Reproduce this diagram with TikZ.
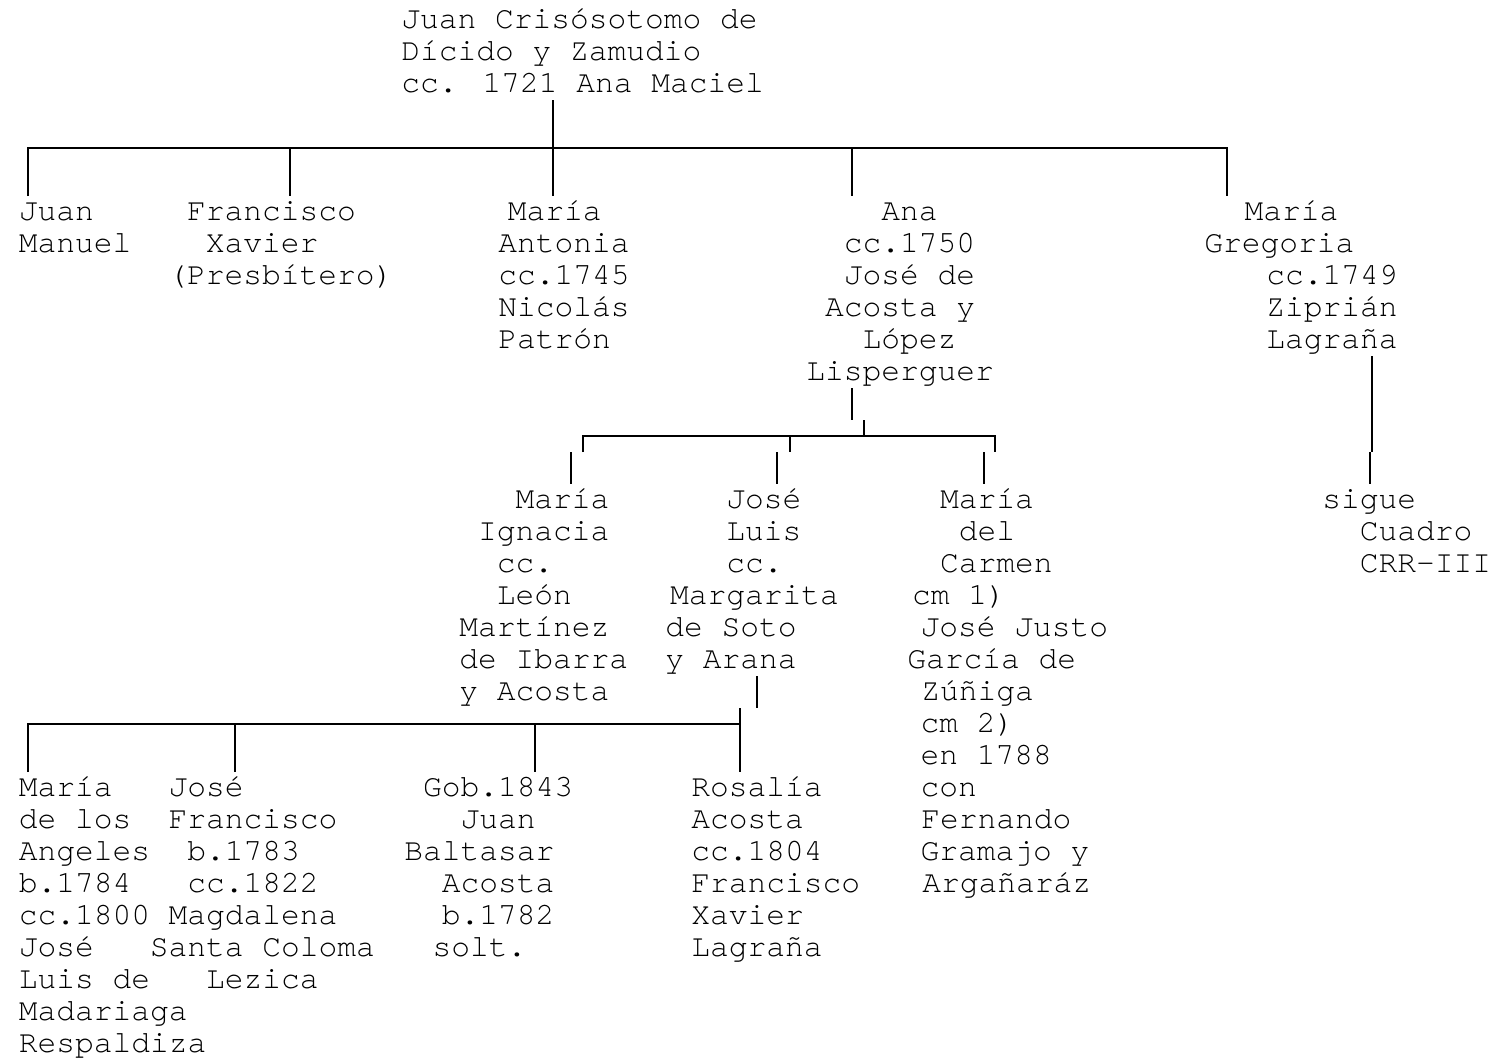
\documentclass[tikz,border=0pt]{standalone}
\usepackage{fontspec}
\newfontfamily\arbolfont{TeX Gyre Cursor}
\usepackage{tikz}
\newlength{\charw}
\setlength{\charw}{9.375pt}
\newcommand{\esp}[1]{\hspace*{#1\charw}}
\newcommand{\arbolfmt}{\arbolfont\fontsize{15.625pt}{16pt}\selectfont\lineskiplimit=-20pt\relax}
\tikzset{personanode/.style={anchor=base west, inner sep=0pt, align=left, font=\arbolfmt},
ramaline/.style={line width=1.2pt}}

\begin{document}
\begin{tikzpicture}[x=0.5pt, y=-0.5pt]
                \useasboundingbox (0,0) rectangle (1500,1060);

                % Generation 1 (nodes sit on the baseline of their last line)
                \node[personanode] (juancrisostomo) at (401,92.5) {Juan Crisósotomo de\\Dícido y Zamudio\\cc. 1721 Ana Maciel};

                % Generation 2
                \node[personanode] (juanmanuel) at (18.5,252.5) {Juan\\Manuel};
                \node[personanode] (franciscoxavier) at (168,284.5) {\esp{1}Francisco\\\esp{2}Xavier\\(Presbítero)};
                \node[personanode] (mariaantonia) at (498,348.5) {\esp{0.5}María\\Antonia\\cc.1745\\Nicolás\\Patrón};
                \node[personanode] (ana) at (806,380.5) {\esp{4}Ana\\\esp{2}cc.1750\\\esp{2}José de\\\esp{1}Acosta y\\\esp{3}López\\Lisperguer};
                \node[personanode] (mariagregoria) at (1204,348.5) {\esp{2.15}María\\Gregoria\\\esp{3.3}cc.1749\\\esp{3.3}Ziprián\\\esp{3.3}Lagraña};

                % Generation 3
                \node[personanode] (mariaignacia) at (459,700.5) {\esp{3}María\\\esp{1}Ignacia\\\esp{2}cc.\\\esp{2}León\\Martínez\\de Ibarra\\y Acosta};
                \node[personanode] (joseluis) at (665,668.5) {\esp{3.25}José\\\esp{3.25}Luis\\\esp{3.25}cc.\\\esp{0.25}Margarita\\de Soto\\y Arana};
                \node[personanode] (mariadelcarmen) at (907,892.5) {\esp{1.75}María\\\esp{2.75}del\\\esp{1.75}Carmen\\\esp{0.25}cm 1)\\\esp{0.7}José Justo\\García de\\\esp{0.75}Zúñiga\\\esp{0.7}cm 2)\\\esp{0.7}en 1788\\\esp{0.7}con\\\esp{0.75}Fernando\\\esp{0.7}Gramajo y\\\esp{0.8}Argañaráz};
                \node[personanode] (sigue) at (1322,572.5) {sigue\\\esp{2}Cuadro\\\esp{2}CRR-III};

                % Generation 4
                \node[personanode] (mariaangeles) at (18.5,1052.5) {María\\de los\\Angeles\\b.1784\\cc.1800\\José\\Luis de\\Madariaga\\Respaldiza};
                \node[personanode] (josefrancisco) at (149.5,988.5) {\esp{1}José\\\esp{1}Francisco\\\esp{2}b.1783\\\esp{2}cc.1822\\\esp{1}Magdalena\\Santa Coloma\\\esp{3}Lezica};
                \node[personanode] (juanbaltasar) at (404,956.5) {\esp{1}Gob.1843\\\esp{3}Juan\\Baltasar\\\esp{2}Acosta\\\esp{2}b.1782\\\esp{1.5}solt.};
                \node[personanode] (rosalia) at (691,956.5) {Rosalía\\Acosta\\cc.1804\\Francisco\\Xavier\\Lagraña};

                % Branches
                \coordinate (raiz) at (553,100);
                \coordinate (bus1w) at (28,148);
                \coordinate (bus1e) at (1227,148);
                \draw[ramaline] (raiz) -- (553,196);
                \draw[ramaline] (28,196) -- (bus1w) -- (bus1e) -- (1227,196);
                \foreach \x in {290,852} {
\draw[ramaline] (\x,148) -- (\x,196);
}

                \coordinate (anadrop) at (852,388);
                \coordinate (bus2w) at (583,436);
                \coordinate (bus2e) at (995,436);
                \draw[ramaline] (anadrop) -- (852,420);
                \draw[ramaline] (864,420) -- (864,436);
                \draw[ramaline] (583,452) -- (bus2w) -- (bus2e) -- (995,452);
                \draw[ramaline] (790,436) -- (790,452);
                \foreach \x in {571,777,984} {
\draw[ramaline] (\x,452) -- (\x,484);
}

                \coordinate (zipdrop) at (1372,356);
                \draw[ramaline] (zipdrop) -- (1372,452);
                \draw[ramaline] (1370,452) -- (1370,484);

                \coordinate (jldrop) at (757,676);
                \coordinate (bus3w) at (28,724);
                \coordinate (bus3e) at (740,724);
                \draw[ramaline] (jldrop) -- (757,708);
                \draw[ramaline] (740,708) -- (740,772);
                \draw[ramaline] (28,772) -- (bus3w) -- (bus3e);
                \foreach \x in {235,535} {
\draw[ramaline] (\x,724) -- (\x,772);
}
            \end{tikzpicture}
\end{document}
